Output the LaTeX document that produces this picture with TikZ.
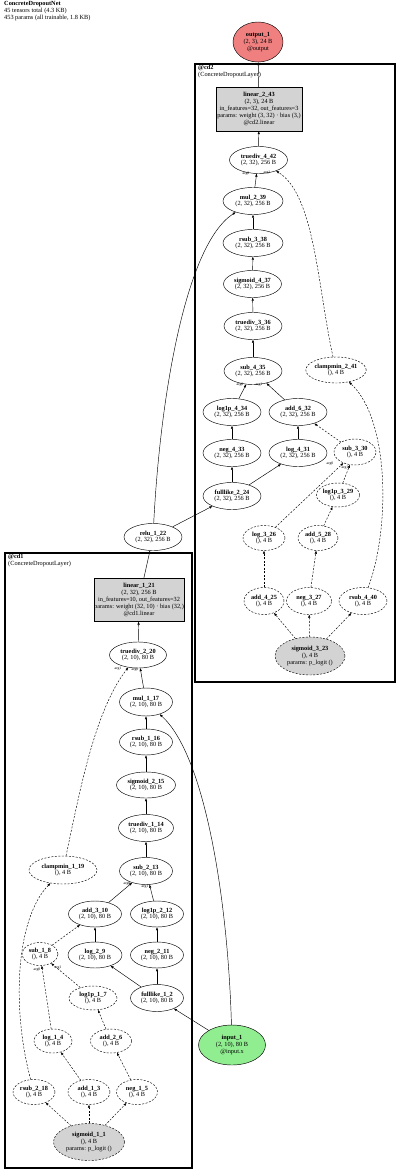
\documentclass[tikz,border=0pt]{standalone}
\usepackage{fontspec}
\setmainfont{Liberation Serif}
\usepackage{tikz}
\usetikzlibrary{arrows.meta, shapes.geometric}
\definecolor{gvgray}{HTML}{D3D3D3}
\definecolor{gvred}{HTML}{F08080}
\definecolor{gvgreen}{HTML}{90EE90}

\begin{document}
\begin{tikzpicture}[
  x=1pt, y=1pt,
  every node/.style={font=\fontsize{6.3}{6.8}\selectfont, align=center, inner sep=0pt},
  op/.style={draw, ellipse, minimum width=58, minimum height=27},
  dsh/.style={dash pattern=on 2pt off 1.5pt},
  dop/.style={op, dsh, minimum width=42, minimum height=25},
  par/.style={dop, fill=gvgray, minimum width=70, minimum height=38},
  lin/.style={draw, rectangle, fill=gvgray, minimum width=86, minimum height=44},
  clu/.style={line width=2pt},
  arg/.style={font=\fontsize{3.8}{4}\selectfont},
  >={Triangle[length=3pt,width=2.2pt]}, line width=0.45pt
]
\useasboundingbox (0,0) rectangle (400,-1174);
% header
\node[anchor=north west, align=left] (hdr) at (4,-1.5)
  {\textbf{ConcreteDropoutNet}\\45 tensors total (4.3 KB)\\453 params (all trainable, 1.8 KB)};
% output
\node[op, fill=gvred, minimum width=50, minimum height=40] (out1) at (258,-42)
  {\textbf{output\_1}\\(2, 3), 24 B\\@output};
% cluster cd2
\draw[clu] (195,-64) rectangle (395,-682);
\node[anchor=north west, align=left] (cd2lbl) at (198,-65) {\textbf{@cd2}\\(ConcreteDropoutLayer)};
\node[lin] (lin243) at (259,-109) {\textbf{linear\_2\_43}\\(2, 3), 24 B\\in\_features=32, out\_features=3\\params: weight (3, 32) · bias (3,)\\@cd2.linear};
\node[op] (td442) at (258.5,-160) {\textbf{truediv\_4\_42}\\(2, 32), 256 B};
\node[op, minimum width=60] (mul239) at (253,-201) {\textbf{mul\_2\_39}\\(2, 32), 256 B};
\node[op, minimum width=60] (rs338) at (253,-243) {\textbf{rsub\_3\_38}\\(2, 32), 256 B};
\node[op] (sg437) at (252.5,-284) {\textbf{sigmoid\_4\_37}\\(2, 32), 256 B};
\node[op] (td336) at (253,-326) {\textbf{truediv\_3\_36}\\(2, 32), 256 B};
\node[op] (sb435) at (253,-371) {\textbf{sub\_4\_35}\\(2, 32), 256 B};
\node[dop, minimum width=60, minimum height=26] (cm241) at (336,-370) {\textbf{clampmin\_2\_41}\\(), 4 B};
\node[op] (lp434) at (232,-412) {\textbf{log1p\_4\_34}\\(2, 32), 256 B};
\node[op] (ad632) at (298,-412) {\textbf{add\_6\_32}\\(2, 32), 256 B};
\node[op] (ng433) at (232,-453) {\textbf{neg\_4\_33}\\(2, 32), 256 B};
\node[op] (lg431) at (298,-453) {\textbf{log\_4\_31}\\(2, 32), 256 B};
\node[dop, minimum height=26] (sb330) at (355,-452) {\textbf{sub\_3\_30}\\(), 4 B};
\node[op] (fl224) at (232,-496) {\textbf{fulllike\_2\_24}\\(2, 32), 256 B};
\node[dop, minimum width=40, minimum height=24] (lp329) at (338,-495) {\textbf{log1p\_3\_29}\\(), 4 B};
\node[dop] (lg326) at (264,-538) {\textbf{log\_3\_26}\\(), 4 B};
\node[dop, minimum width=40] (ad528) at (318,-538) {\textbf{add\_5\_28}\\(), 4 B};
\node[dop, minimum width=40, minimum height=27] (ad425) at (264,-601) {\textbf{add\_4\_25}\\(), 4 B};
\node[dop, minimum width=45, minimum height=27] (ng327) at (309,-601) {\textbf{neg\_3\_27}\\(), 4 B};
\node[dop, minimum width=48, minimum height=27] (rs440) at (363,-601) {\textbf{rsub\_4\_40}\\(), 4 B};
\node[par] (sg323) at (310,-656) {\textbf{sigmoid\_3\_23}\\(), 4 B\\params: p\_logit ()};
% between the layers
\node[op] (relu) at (153,-537) {\textbf{relu\_1\_22}\\(2, 32), 256 B};
% cluster cd1
\draw[clu] (5,-553) rectangle (192,-1168);
\node[anchor=north west, align=left] (cd1lbl) at (8,-554) {\textbf{@cd1}\\(ConcreteDropoutLayer)};
\node[lin, minimum width=89, minimum height=43] (lin121) at (139,-600) {\textbf{linear\_1\_21}\\(2, 32), 256 B\\in\_features=10, out\_features=32\\params: weight (32, 10) · bias (32,)\\@cd1.linear};
\node[op, minimum width=57, minimum height=26] (td220) at (138,-655) {\textbf{truediv\_2\_20}\\(2, 10), 80 B};
\node[op, minimum width=53, minimum height=28] (mul117) at (146,-702) {\textbf{mul\_1\_17}\\(2, 10), 80 B};
\node[op, minimum width=53, minimum height=26] (rs116) at (146,-742) {\textbf{rsub\_1\_16}\\(2, 10), 80 B};
\node[op, minimum width=59, minimum height=26] (sg215) at (146,-785) {\textbf{sigmoid\_2\_15}\\(2, 10), 80 B};
\node[op, minimum width=55] (td114) at (146,-828) {\textbf{truediv\_1\_14}\\(2, 10), 80 B};
\node[op, minimum width=53] (sb213) at (146,-871) {\textbf{sub\_2\_13}\\(2, 10), 80 B};
\node[dop, minimum width=68, minimum height=28] (cm119) at (63,-870) {\textbf{clampmin\_1\_19}\\(), 4 B};
\node[op, minimum width=53, minimum height=26] (ad310) at (95,-914) {\textbf{add\_3\_10}\\(2, 10), 80 B};
\node[op, minimum width=53, minimum height=26] (lp212) at (157,-914) {\textbf{log1p\_2\_12}\\(2, 10), 80 B};
\node[dop, minimum width=36, minimum height=23] (sb18) at (40,-954) {\textbf{sub\_1\_8}\\(), 4 B};
\node[op, minimum width=54, minimum height=26] (lg29) at (95,-955) {\textbf{log\_2\_9}\\(2, 10), 80 B};
\node[op, minimum width=53, minimum height=26] (ng211) at (157,-955) {\textbf{neg\_2\_11}\\(2, 10), 80 B};
\node[dop, minimum width=48, minimum height=24] (lp17) at (93,-998) {\textbf{log1p\_1\_7}\\(), 4 B};
\node[op, minimum width=53] (fl12) at (157,-998) {\textbf{fulllike\_1\_2}\\(2, 10), 80 B};
\node[dop, minimum width=38, minimum height=24] (lg14) at (53,-1041) {\textbf{log\_1\_4}\\(), 4 B};
\node[dop, minimum width=41, minimum height=24] (ad26) at (111,-1041) {\textbf{add\_2\_6}\\(), 4 B};
\node[dop] (rs218) at (34,-1092) {\textbf{rsub\_2\_18}\\(), 4 B};
\node[dop] (ad13) at (89,-1092) {\textbf{add\_1\_3}\\(), 4 B};
\node[dop, minimum width=41] (ng15) at (137,-1092) {\textbf{neg\_1\_5}\\(), 4 B};
\node[par, minimum width=71, minimum height=37] (sg11) at (89,-1142) {\textbf{sigmoid\_1\_1}\\(), 4 B\\params: p\_logit ()};
% input
\node[op, fill=gvgreen, minimum width=67, minimum height=40] (inp) at (232,-1045) {\textbf{input\_1}\\(2, 10), 80 B\\@input.x};
% edges cd2
\draw[->] (lin243) -- (out1);
\draw[->] (td442) -- (lin243);
\draw[->] (mul239) -- (td442);
\draw[->, dsh] (cm241) .. controls (318,-290) and (315,-195) .. (td442);
\draw[->] (rs338) -- (mul239);
\draw[->] (relu) .. controls (160,-400) and (185,-245) .. (mul239);
\draw[->] (sg437) -- (rs338);
\draw[->] (td336) -- (sg437);
\draw[->] (sb435) -- (td336);
\draw[->] (lp434) -- (sb435);
\draw[->] (ad632) -- (sb435);
\draw[->] (ng433) -- (lp434);
\draw[->] (lg431) -- (ad632);
\draw[->, dsh] (sb330) -- (ad632);
\draw[->] (fl224) -- (ng433);
\draw[->] (fl224) -- (lg431);
\draw[->] (relu) -- (fl224);
\draw[->, dsh] (lg326) -- (sb330);
\draw[->, dsh] (lp329) -- (sb330);
\draw[->, dsh] (ad528) -- (lp329);
\draw[->, dsh] (ng327) -- (ad528);
\draw[->, dsh] (ad425) -- (lg326);
\draw[->, dsh] (rs440) .. controls (390,-530) and (390,-420) .. (cm241);
\foreach \t in {ad425,ng327,rs440}{ \draw[->, dsh] (sg323) -- (\t); }
\node[arg] (a0td442) at (246,-174) {arg0};
\node[arg] (a1td442) at (267,-173) {arg1};
\node[arg] (a0sb435) at (240,-385) {arg0};
\node[arg] (a1sb435) at (259,-385) {arg1};
\node[arg] (a0sb330) at (330,-464) {arg0};
\node[arg] (a1sb330) at (345,-468) {arg1};
% edges cd1
\draw[->] (lin121) -- (relu);
\draw[->] (td220) -- (lin121);
\draw[->] (mul117) -- (td220);
\draw[->, dsh] (cm119) .. controls (80,-790) and (95,-710) .. (td220);
\draw[->] (rs116) -- (mul117);
\draw[->] (inp) .. controls (228,-900) and (205,-755) .. (mul117);
\draw[->] (sg215) -- (rs116);
\draw[->] (td114) -- (sg215);
\draw[->] (sb213) -- (td114);
\draw[->] (ad310) -- (sb213);
\draw[->] (lp212) -- (sb213);
\draw[->, dsh] (sb18) -- (ad310);
\draw[->] (lg29) -- (ad310);
\draw[->] (ng211) -- (lp212);
\draw[->] (fl12) -- (lg29);
\draw[->] (fl12) -- (ng211);
\draw[->] (inp) -- (fl12);
\draw[->, dsh] (lg14) -- (sb18);
\draw[->, dsh] (lp17) -- (sb18);
\draw[->, dsh] (ad26) -- (lp17);
\draw[->, dsh] (ng15) -- (ad26);
\draw[->, dsh] (ad13) -- (lg14);
\draw[->, dsh] (rs218) .. controls (12,-1010) and (15,-920) .. (cm119);
\foreach \t in {rs218,ad13,ng15}{ \draw[->, dsh] (sg11) -- (\t); }
\node[arg] (a1td220) at (118,-669) {arg1};
\node[arg] (a0td220) at (135,-670) {arg0};
\node[arg] (a0sb213) at (127,-884) {arg0};
\node[arg] (a1sb213) at (145,-887) {arg1};
\node[arg] (a0sb18) at (37,-970) {arg0};
\node[arg] (a1sb18) at (58,-968) {arg1};
\end{tikzpicture}
\end{document}
